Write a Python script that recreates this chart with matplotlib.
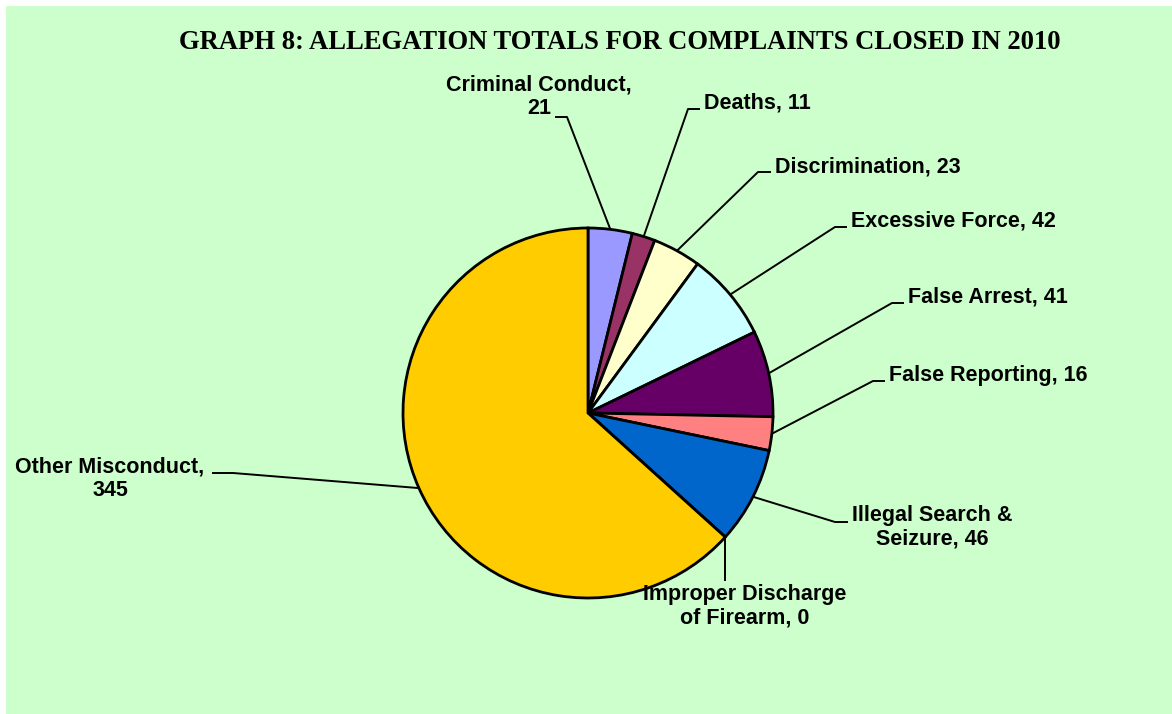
import numpy as np
import matplotlib
matplotlib.use("Agg")
from matplotlib import pyplot as plt
from matplotlib.patches import Rectangle

categories = ["Criminal Conduct", "Deaths", "Discrimination", "Excessive Force",
              "False Arrest", "False Reporting", "Illegal Search & Seizure",
              "Improper Discharge of Firearm", "Other Misconduct"]
values = [21, 11, 23, 42, 41, 16, 46, 0, 345]
label_texts = ["Criminal Conduct,\n21", "Deaths, 11", "Discrimination, 23",
               "Excessive Force, 42", "False Arrest, 41", "False Reporting, 16",
               "Illegal Search &\nSeizure, 46", "Improper Discharge\nof Firearm, 0",
               "Other Misconduct,\n345"]
colors = ["#9999FF", "#993366", "#FFFFCC", "#CCFFFF", "#660066",
          "#FF8080", "#0066CC", "#CCCCFF", "#FFCC00"]

W, H = 1172, 714
fig = plt.figure(figsize=(W / 100, H / 100), dpi=100)
fig.patch.set_facecolor("white")

ax = fig.add_axes([0, 0, 1, 1])
ax.axis("off")
ax.patch.set_alpha(0)
ax.add_patch(Rectangle((6 / W, -0.01), 1, (H - 6) / H + 0.01, transform=fig.transFigure,
                       facecolor="#CCFFCC", edgecolor="none", zorder=-5, clip_on=False))

cx, cy, r = 588, H - 413, 185
wedges, _ = ax.pie(values, colors=colors, startangle=90, counterclock=False,
                   center=(cx, cy), radius=r,
                   wedgeprops=dict(edgecolor="black", linewidth=2.0))
ax.set_aspect("auto")
ax.set_xlim(0, W)
ax.set_ylim(0, H)
ax.axis("off")

# label layout: (elbow x, elbow end x, line y, text x, text y, ha, va)
layout = [
    (567, 556, 117, 539, 97, "center", "center"),
    (688, 699, 109, 704, 109, "left", "baseline"),
    (758, 770, 172, 775, 172, "left", "baseline"),
    (835, 846, 227, 851, 227, "left", "baseline"),
    (892, 903, 303, 908, 303, "left", "baseline"),
    (873, 884, 381, 889, 381, "left", "baseline"),
    (835, 847, 522, 932, 527, "center", "center"),
    (None, None, 580, 745, 606, "center", "center"),
    (233, 213, 473, 110, 479, "center", "center"),
]

for w, txt, lay in zip(wedges, label_texts, layout):
    ex, ex2, ly, tx, ty, ha, va = lay
    mid = np.deg2rad((w.theta1 + w.theta2) / 2)
    px = cx + r * np.cos(mid)
    py = cy + r * np.sin(mid)
    if ex is None:
        ax.plot([px, px], [py, H - ly], color="black", lw=1.4, zorder=0.5)
    else:
        ax.plot([px, ex, ex2], [py, H - ly, H - ly], color="black", lw=1.4, zorder=0.5)
    ax.text(tx, H - ty, txt, ha=ha, va=va, multialignment="center",
            fontsize=15.5, fontweight="bold", family="Liberation Sans",
            linespacing=1.15)

ax.text(620, H - 49, "GRAPH 8: ALLEGATION TOTALS FOR COMPLAINTS CLOSED IN 2010",
        ha="center", va="baseline", fontsize=19.2, fontweight="bold",
        family="Liberation Serif")

plt.savefig("out.png", dpi=100)
